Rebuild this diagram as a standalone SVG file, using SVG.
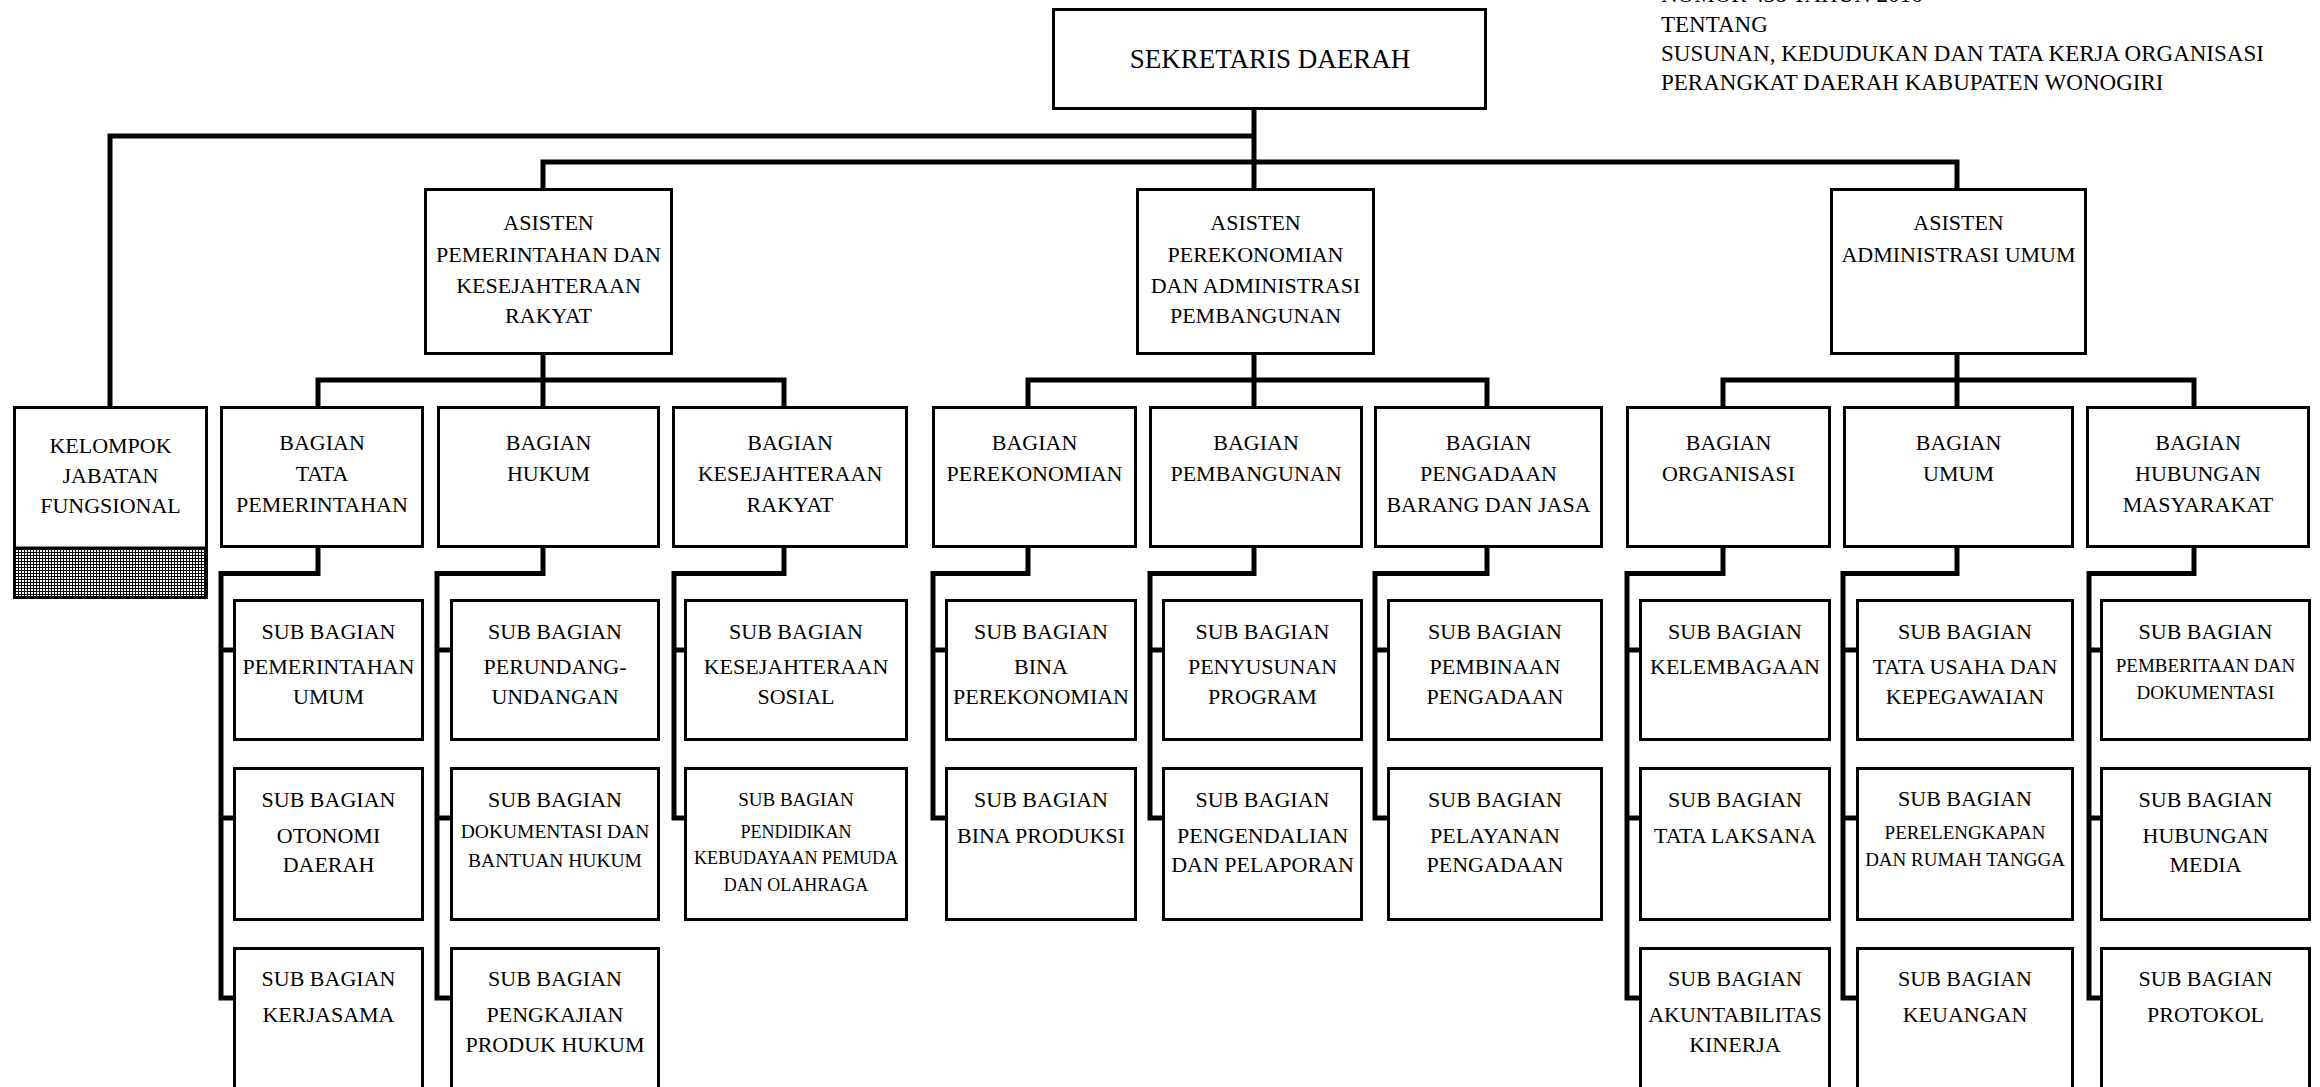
<svg xmlns="http://www.w3.org/2000/svg" width="2320" height="1087" viewBox="0 0 2320 1087">
  <style>
    .box { fill: #fff; stroke: #000; stroke-width: 3; }
    .conn { fill: none; stroke: #000; stroke-width: 5; stroke-linejoin: miter; }
    text { font-family: "Liberation Serif", "Times New Roman", serif; fill: #000; }
    .lbl { font-size: 22px; text-anchor: middle; }
    .sm { font-size: 19.5px; }
    .xs { font-size: 18px; }
    .title { font-size: 27px; text-anchor: middle; }
    .note { font-size: 23px; }
  </style>
  <defs>
    <pattern id="grid" width="3" height="3" patternUnits="userSpaceOnUse">
      <rect width="3" height="3" fill="#fff"/>
      <path d="M0 0.5 H3 M0.5 0 V3" stroke="#000" stroke-width="1"/>
    </pattern>
  </defs>
  <rect width="2320" height="1087" fill="#fff"/>

  <!-- heading note, top right -->
  <g id="note">
    <text class="note" x="1661" y="2">NOMOR       438 TAHUN 2016</text>
    <text class="note" x="1661" y="32">TENTANG</text>
    <text class="note" x="1661" y="61">SUSUNAN, KEDUDUKAN DAN TATA KERJA ORGANISASI</text>
    <text class="note" x="1661" y="90">PERANGKAT DAERAH KABUPATEN WONOGIRI</text>
  </g>

  <!-- connectors -->
  <g id="connectors" class="conn">
    <!-- sekretaris to fungsional and asisten -->
    <path d="M1254 110 V188"/>
    <path d="M1254 136 H110 V406"/>
    <path d="M543 188 V162 H1957 V188"/>
    <!-- asisten to bagian -->
    <path d="M543 355 V406 M318 406 V380 H784 V406"/>
    <path d="M1254 355 V406 M1028 406 V380 H1487 V406"/>
    <path d="M1957 355 V406 M1723 406 V380 H2194 V406"/>
    <!-- bagian to sub bagian -->
    <path d="M318 548 V573.5 H221 V1000.5 M221 650 H233 M221 818 H233 M221 998 H233"/>
    <path d="M543 548 V573.5 H437 V1000.5 M437 650 H450 M437 818 H450 M437 998 H450"/>
    <path d="M784 548 V573.5 H674 V820.5 M674 650 H684 M674 818 H684"/>
    <path d="M1028 548 V573.5 H933 V820.5 M933 650 H945 M933 818 H945"/>
    <path d="M1254 548 V573.5 H1150 V820.5 M1150 650 H1162 M1150 818 H1162"/>
    <path d="M1487 548 V573.5 H1375 V820.5 M1375 650 H1387 M1375 818 H1387"/>
    <path d="M1723 548 V573.5 H1627 V1000.5 M1627 650 H1639 M1627 818 H1639 M1627 998 H1639"/>
    <path d="M1957 548 V573.5 H1843 V1000.5 M1843 650 H1856 M1843 818 H1856 M1843 998 H1856"/>
    <path d="M2194 548 V573.5 H2089 V1000.5 M2089 650 H2100 M2089 818 H2100 M2089 998 H2100"/>
  </g>

  <!-- top level -->
  <g id="sekda">
    <rect class="box" x="1053.5" y="9.5" width="432" height="99"/>
    <text class="title" x="1270" y="68">SEKRETARIS DAERAH</text>
  </g>

  <!-- assistants -->
  <g id="asisten-1">
    <rect class="box" x="425.5" y="189.5" width="246" height="164"/>
    <text class="lbl" x="548.5" y="230">ASISTEN</text>
    <text class="lbl" x="548.5" y="262">PEMERINTAHAN DAN</text>
    <text class="lbl" x="548.5" y="293">KESEJAHTERAAN</text>
    <text class="lbl" x="548.5" y="323">RAKYAT</text>
  </g>
  <g id="asisten-2">
    <rect class="box" x="1137.5" y="189.5" width="236" height="164"/>
    <text class="lbl" x="1255.5" y="230">ASISTEN</text>
    <text class="lbl" x="1255.5" y="262">PEREKONOMIAN</text>
    <text class="lbl" x="1255.5" y="293">DAN ADMINISTRASI</text>
    <text class="lbl" x="1255.5" y="323">PEMBANGUNAN</text>
  </g>
  <g id="asisten-3">
    <rect class="box" x="1831.5" y="189.5" width="254" height="164"/>
    <text class="lbl" x="1958.5" y="230">ASISTEN</text>
    <text class="lbl" x="1958.5" y="262">ADMINISTRASI UMUM</text>
  </g>

  <!-- functional group -->
  <g id="kelompok-jabatan-fungsional">
    <rect x="14.5" y="548" width="192" height="49.5" fill="url(#grid)"/>
    <rect class="box" x="14.5" y="407.5" width="192" height="190" style="fill:none"/>
    <path d="M14.5 548 H206.5" stroke="#000" stroke-width="3"/>
    <text class="lbl" x="110.5" y="453">KELOMPOK</text>
    <text class="lbl" x="110.5" y="483">JABATAN</text>
    <text class="lbl" x="110.5" y="513">FUNGSIONAL</text>
  </g>

  <!-- bagian -->
  <g id="bagian-tata-pemerintahan">
    <rect class="box" x="221.5" y="407.5" width="201" height="139"/>
    <text class="lbl" x="322" y="450">BAGIAN</text>
    <text class="lbl" x="322" y="481">TATA</text>
    <text class="lbl" x="322" y="512">PEMERINTAHAN</text>
  </g>
  <g id="bagian-hukum">
    <rect class="box" x="438.5" y="407.5" width="220" height="139"/>
    <text class="lbl" x="548.5" y="450">BAGIAN</text>
    <text class="lbl" x="548.5" y="481">HUKUM</text>
  </g>
  <g id="bagian-kesra">
    <rect class="box" x="673.5" y="407.5" width="233" height="139"/>
    <text class="lbl" x="790" y="450">BAGIAN</text>
    <text class="lbl" x="790" y="481">KESEJAHTERAAN</text>
    <text class="lbl" x="790" y="512">RAKYAT</text>
  </g>
  <g id="bagian-perekonomian">
    <rect class="box" x="933.5" y="407.5" width="202" height="139"/>
    <text class="lbl" x="1034.5" y="450">BAGIAN</text>
    <text class="lbl" x="1034.5" y="481">PEREKONOMIAN</text>
  </g>
  <g id="bagian-pembangunan">
    <rect class="box" x="1150.5" y="407.5" width="211" height="139"/>
    <text class="lbl" x="1256" y="450">BAGIAN</text>
    <text class="lbl" x="1256" y="481">PEMBANGUNAN</text>
  </g>
  <g id="bagian-pengadaan">
    <rect class="box" x="1375.5" y="407.5" width="226" height="139"/>
    <text class="lbl" x="1488.5" y="450">BAGIAN</text>
    <text class="lbl" x="1488.5" y="481">PENGADAAN</text>
    <text class="lbl" x="1488.5" y="512">BARANG DAN JASA</text>
  </g>
  <g id="bagian-organisasi">
    <rect class="box" x="1627.5" y="407.5" width="202" height="139"/>
    <text class="lbl" x="1728.5" y="450">BAGIAN</text>
    <text class="lbl" x="1728.5" y="481">ORGANISASI</text>
  </g>
  <g id="bagian-umum">
    <rect class="box" x="1844.5" y="407.5" width="228" height="139"/>
    <text class="lbl" x="1958.5" y="450">BAGIAN</text>
    <text class="lbl" x="1958.5" y="481">UMUM</text>
  </g>
  <g id="bagian-humas">
    <rect class="box" x="2087.5" y="407.5" width="221" height="139"/>
    <text class="lbl" x="2198" y="450">BAGIAN</text>
    <text class="lbl" x="2198" y="481">HUBUNGAN</text>
    <text class="lbl" x="2198" y="512">MASYARAKAT</text>
  </g>

  <!-- sub bagian: tata pemerintahan -->
  <g id="sub-pemerintahan-umum">
    <rect class="box" x="234.5" y="600.5" width="188" height="139"/>
    <text class="lbl" x="328.5" y="639">SUB BAGIAN</text>
    <text class="lbl" x="328.5" y="674">PEMERINTAHAN</text>
    <text class="lbl" x="328.5" y="704">UMUM</text>
  </g>
  <g id="sub-otonomi-daerah">
    <rect class="box" x="234.5" y="768.5" width="188" height="151"/>
    <text class="lbl" x="328.5" y="807">SUB BAGIAN</text>
    <text class="lbl" x="328.5" y="843">OTONOMI</text>
    <text class="lbl" x="328.5" y="872">DAERAH</text>
  </g>
  <g id="sub-kerjasama">
    <rect class="box" x="234.5" y="948.5" width="188" height="200"/>
    <text class="lbl" x="328.5" y="986">SUB BAGIAN</text>
    <text class="lbl" x="328.5" y="1022">KERJASAMA</text>
  </g>

  <!-- sub bagian: hukum -->
  <g id="sub-perundang-undangan">
    <rect class="box" x="451.5" y="600.5" width="207" height="139"/>
    <text class="lbl" x="555" y="639">SUB BAGIAN</text>
    <text class="lbl" x="555" y="674">PERUNDANG-</text>
    <text class="lbl" x="555" y="704">UNDANGAN</text>
  </g>
  <g id="sub-dokumentasi-bantuan-hukum">
    <rect class="box" x="451.5" y="768.5" width="207" height="151"/>
    <text class="lbl" x="555" y="807">SUB BAGIAN</text>
    <text class="lbl sm" x="555" y="838">DOKUMENTASI DAN</text>
    <text class="lbl sm" x="555" y="867">BANTUAN HUKUM</text>
  </g>
  <g id="sub-pengkajian-produk-hukum">
    <rect class="box" x="451.5" y="948.5" width="207" height="200"/>
    <text class="lbl" x="555" y="986">SUB BAGIAN</text>
    <text class="lbl" x="555" y="1022">PENGKAJIAN</text>
    <text class="lbl" x="555" y="1052">PRODUK HUKUM</text>
  </g>

  <!-- sub bagian: kesejahteraan rakyat -->
  <g id="sub-kesejahteraan-sosial">
    <rect class="box" x="685.5" y="600.5" width="221" height="139"/>
    <text class="lbl" x="796" y="639">SUB BAGIAN</text>
    <text class="lbl" x="796" y="674">KESEJAHTERAAN</text>
    <text class="lbl" x="796" y="704">SOSIAL</text>
  </g>
  <g id="sub-pendidikan-kebudayaan">
    <rect class="box" x="685.5" y="768.5" width="221" height="151"/>
    <text class="lbl" x="796" y="806" style="font-size:19px">SUB BAGIAN</text>
    <text class="lbl xs" x="796" y="838">PENDIDIKAN</text>
    <text class="lbl xs" x="796" y="864">KEBUDAYAAN PEMUDA</text>
    <text class="lbl xs" x="796" y="891">DAN OLAHRAGA</text>
  </g>

  <!-- sub bagian: perekonomian -->
  <g id="sub-bina-perekonomian">
    <rect class="box" x="946.5" y="600.5" width="189" height="139"/>
    <text class="lbl" x="1041" y="639">SUB BAGIAN</text>
    <text class="lbl" x="1041" y="674">BINA</text>
    <text class="lbl" x="1041" y="704">PEREKONOMIAN</text>
  </g>
  <g id="sub-bina-produksi">
    <rect class="box" x="946.5" y="768.5" width="189" height="151"/>
    <text class="lbl" x="1041" y="807">SUB BAGIAN</text>
    <text class="lbl" x="1041" y="843">BINA PRODUKSI</text>
  </g>

  <!-- sub bagian: pembangunan -->
  <g id="sub-penyusunan-program">
    <rect class="box" x="1163.5" y="600.5" width="198" height="139"/>
    <text class="lbl" x="1262.5" y="639">SUB BAGIAN</text>
    <text class="lbl" x="1262.5" y="674">PENYUSUNAN</text>
    <text class="lbl" x="1262.5" y="704">PROGRAM</text>
  </g>
  <g id="sub-pengendalian-pelaporan">
    <rect class="box" x="1163.5" y="768.5" width="198" height="151"/>
    <text class="lbl" x="1262.5" y="807">SUB BAGIAN</text>
    <text class="lbl" x="1262.5" y="843">PENGENDALIAN</text>
    <text class="lbl" x="1262.5" y="872">DAN PELAPORAN</text>
  </g>

  <!-- sub bagian: pengadaan barang dan jasa -->
  <g id="sub-pembinaan-pengadaan">
    <rect class="box" x="1388.5" y="600.5" width="213" height="139"/>
    <text class="lbl" x="1495" y="639">SUB BAGIAN</text>
    <text class="lbl" x="1495" y="674">PEMBINAAN</text>
    <text class="lbl" x="1495" y="704">PENGADAAN</text>
  </g>
  <g id="sub-pelayanan-pengadaan">
    <rect class="box" x="1388.5" y="768.5" width="213" height="151"/>
    <text class="lbl" x="1495" y="807">SUB BAGIAN</text>
    <text class="lbl" x="1495" y="843">PELAYANAN</text>
    <text class="lbl" x="1495" y="872">PENGADAAN</text>
  </g>

  <!-- sub bagian: organisasi -->
  <g id="sub-kelembagaan">
    <rect class="box" x="1640.5" y="600.5" width="189" height="139"/>
    <text class="lbl" x="1735" y="639">SUB BAGIAN</text>
    <text class="lbl" x="1735" y="674">KELEMBAGAAN</text>
  </g>
  <g id="sub-tata-laksana">
    <rect class="box" x="1640.5" y="768.5" width="189" height="151"/>
    <text class="lbl" x="1735" y="807">SUB BAGIAN</text>
    <text class="lbl" x="1735" y="843">TATA LAKSANA</text>
  </g>
  <g id="sub-akuntabilitas-kinerja">
    <rect class="box" x="1640.5" y="948.5" width="189" height="200"/>
    <text class="lbl" x="1735" y="986">SUB BAGIAN</text>
    <text class="lbl" x="1735" y="1022">AKUNTABILITAS</text>
    <text class="lbl" x="1735" y="1052">KINERJA</text>
  </g>

  <!-- sub bagian: umum -->
  <g id="sub-tata-usaha-kepegawaian">
    <rect class="box" x="1857.5" y="600.5" width="215" height="139"/>
    <text class="lbl" x="1965" y="639">SUB BAGIAN</text>
    <text class="lbl" x="1965" y="674">TATA USAHA DAN</text>
    <text class="lbl" x="1965" y="704">KEPEGAWAIAN</text>
  </g>
  <g id="sub-perlengkapan-rumah-tangga">
    <rect class="box" x="1857.5" y="768.5" width="215" height="151"/>
    <text class="lbl" x="1965" y="806">SUB BAGIAN</text>
    <text class="lbl" x="1965" y="839" style="font-size:19px">PERELENGKAPAN</text>
    <text class="lbl" x="1965" y="866" style="font-size:19px">DAN RUMAH TANGGA</text>
  </g>
  <g id="sub-keuangan">
    <rect class="box" x="1857.5" y="948.5" width="215" height="200"/>
    <text class="lbl" x="1965" y="986">SUB BAGIAN</text>
    <text class="lbl" x="1965" y="1022">KEUANGAN</text>
  </g>

  <!-- sub bagian: hubungan masyarakat -->
  <g id="sub-pemberitaan-dokumentasi">
    <rect class="box" x="2101.5" y="600.5" width="208" height="139"/>
    <text class="lbl" x="2205.5" y="639">SUB BAGIAN</text>
    <text class="lbl" x="2205.5" y="672" style="font-size:19px">PEMBERITAAN DAN</text>
    <text class="lbl" x="2205.5" y="699" style="font-size:19px">DOKUMENTASI</text>
  </g>
  <g id="sub-hubungan-media">
    <rect class="box" x="2101.5" y="768.5" width="208" height="151"/>
    <text class="lbl" x="2205.5" y="807">SUB BAGIAN</text>
    <text class="lbl" x="2205.5" y="843">HUBUNGAN</text>
    <text class="lbl" x="2205.5" y="872">MEDIA</text>
  </g>
  <g id="sub-protokol">
    <rect class="box" x="2101.5" y="948.5" width="208" height="200"/>
    <text class="lbl" x="2205.5" y="986">SUB BAGIAN</text>
    <text class="lbl" x="2205.5" y="1022">PROTOKOL</text>
  </g>
</svg>
